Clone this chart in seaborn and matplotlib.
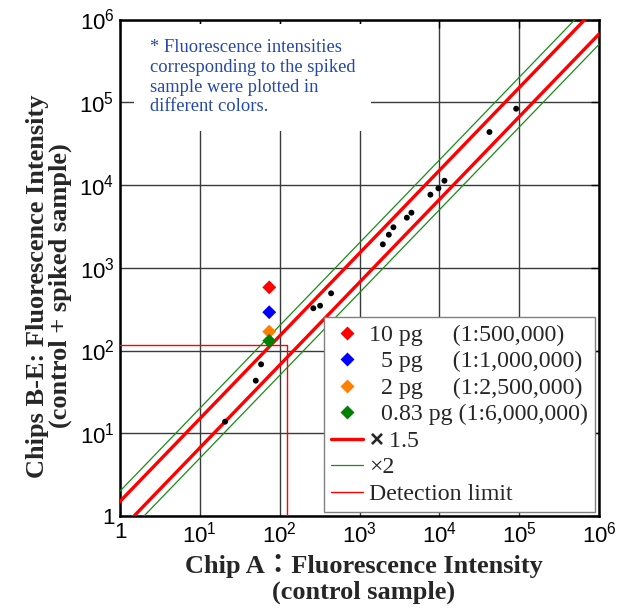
import numpy as np
import pandas as pd
import matplotlib
matplotlib.use("Agg")
import matplotlib.pyplot as plt
import seaborn as sns
from matplotlib.ticker import FuncFormatter, LogLocator, NullLocator
from matplotlib.lines import Line2D

# ---------------- data ----------------
control = [20.7, 50.2, 58.5, 264, 321, 441, 1959, 2329, 2660, 3917, 4470,
           7730, 9740, 11590, 42450, 91700]
spiked = [13.8, 43.2, 68.1, 324, 348, 491, 1920, 2508, 3083, 4027, 4627,
          7640, 9120, 11270, 43670, 83560]

spike_labels = ["10 pg     (1:500,000)",
                "  5 pg     (1:1,000,000)",
                "  2 pg     (1:2,500,000)",
                "  0.83 pg (1:6,000,000)"]
spike_x = [74, 74, 74, 74]
spike_y = [580, 290, 169, 131]
spike_colors = ["#ff0000", "#0000ff", "#ff8000", "#008000"]

fold_ratios = [1.5, 2.0]
fold_labels = [r"$\mathbf{\times}$ 1.5", "\u00d72"]
detection_x = 122
detection_y = 115

x_ticks = [1, 1e1, 1e2, 1e3, 1e4, 1e5, 1e6]
y_ticks = [1, 1e1, 1e2, 1e3, 1e4, 1e5, 1e6]

note = ("* Fluorescence intensities\ncorresponding to the spiked\n"
        "sample were plotted in\ndifferent colors.")
xlabel = "Chip A\uff1aFluorescence Intensity\n(control sample)"
ylabel = "Chips B-E: Fluorescence Intensity\n(control + spiked sample)"

# ---------------- style ----------------
sns.set_theme(style="white")
plt.rcParams["font.family"] = ["Liberation Sans", "DejaVu Sans"]
plt.rcParams["mathtext.fontset"] = "custom"
plt.rcParams["mathtext.rm"] = "Liberation Sans"
plt.rcParams["mathtext.it"] = "Liberation Sans:italic"
plt.rcParams["mathtext.bf"] = "Liberation Sans:bold"
serif = ["Liberation Serif", "Noto Sans CJK JP", "DejaVu Serif"]

fig = plt.figure(figsize=(6.27, 6.09), dpi=100)
ax = fig.add_axes([120 / 627, 93 / 609, 479 / 627, 496.5 / 609])
ax.set_xscale("log")
ax.set_yscale("log")
ax.set_xlim(1, 1e6)
ax.set_ylim(1, 1e6)

# grid
for v in x_ticks:
    ax.axvline(v, color="#3a3a3a", lw=1.0, zorder=0.5)
for v in y_ticks:
    ax.axhline(v, color="#3a3a3a", lw=1.0, zorder=0.5)

# note box
ax.text(0.062, 0.96, note, transform=ax.transAxes, ha="left", va="top",
        fontsize=13.3, color="#2548a8", family=serif, linespacing=1.2,
        zorder=1,
        bbox=dict(boxstyle="square,pad=0.85", facecolor="white",
                  edgecolor="none"))

# fold lines
line_x = np.array([0.3, 3e6])
for r, c, w in zip(fold_ratios, ["#ff0000", "#1a8c1a"], [2.4, 0.9]):
    sns.lineplot(x=line_x, y=line_x * r, color=c, lw=w, ax=ax, zorder=3)
    sns.lineplot(x=line_x, y=line_x / r, color=c, lw=w, ax=ax, zorder=3)

# detection limit
sns.lineplot(x=[0.3, detection_x, detection_x], y=[detection_y, detection_y, 0.3],
             sort=False, estimator=None, color="#ff0000", lw=1.0, ax=ax,
             zorder=3)

# points
sns.scatterplot(x=control, y=spiked, color="black", s=18, edgecolor="none",
                ax=ax, zorder=4)
spike_df = pd.DataFrame({"x": spike_x, "y": spike_y, "label": spike_labels})
sns.scatterplot(data=spike_df, x="x", y="y", hue="label",
                palette=dict(zip(spike_labels, spike_colors)), marker="D",
                s=50, edgecolor="none", ax=ax, zorder=5, legend=False)

# axes styling
ax.xaxis.set_major_locator(LogLocator(base=10, numticks=10))
ax.yaxis.set_major_locator(LogLocator(base=10, numticks=10))
ax.xaxis.set_minor_locator(NullLocator())
ax.yaxis.set_minor_locator(NullLocator())
fmt = FuncFormatter(lambda v, p: "1" if abs(v - 1) < 1e-9 else
                    r"$\mathregular{10^{%d}}$" % round(np.log10(v)))
ax.xaxis.set_major_formatter(fmt)
ax.yaxis.set_major_formatter(fmt)
ax.tick_params(which="major", direction="in", length=6, width=1,
               top=True, right=True, labelsize=16, pad=4, colors="black")
for s in ax.spines.values():
    s.set_color("black")
    s.set_linewidth(1.8)

ax.set_xlabel(xlabel, family=serif, fontweight="bold", fontsize=19,
              linespacing=1.15)
ax.set_ylabel(ylabel, family=serif, fontweight="bold", fontsize=19,
              linespacing=1.0)
ax.xaxis.set_label_coords(0.509, -0.077)
ax.yaxis.set_label_coords(-0.100, 0.463)

# legend
handles = [Line2D([], [], ls="none", marker="D", markersize=7,
                  markerfacecolor=c, markeredgecolor="none")
           for c in spike_colors]
handles += [Line2D([], [], color="#ff0000", lw=2.4),
            Line2D([], [], color="#1a8c1a", lw=0.9),
            Line2D([], [], color="#ff0000", lw=1.0)]
labels = spike_labels + fold_labels + ["Detection limit"]
leg = ax.legend(handles, labels, loc="lower right",
                bbox_to_anchor=(0.9916, 0.008), borderaxespad=0,
                prop=dict(family=serif, size=17.2), frameon=True,
                fancybox=False, edgecolor="#808080", framealpha=1,
                handlelength=1.35, handletextpad=0.25, labelspacing=0.2,
                borderpad=0.3)
leg.get_frame().set_linewidth(1.0)
leg.set_zorder(10)

fig.savefig("out.png", dpi=100)
